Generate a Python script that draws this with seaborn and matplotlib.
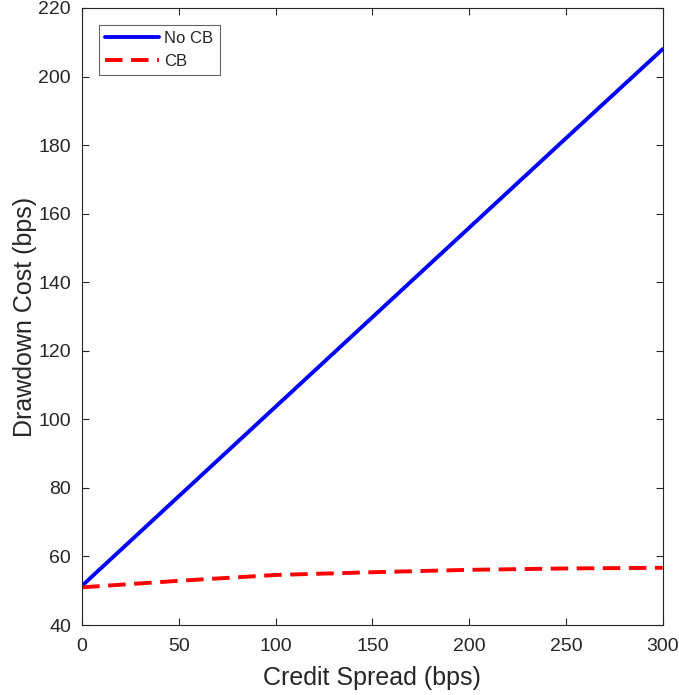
import numpy as np
import pandas as pd
import matplotlib
matplotlib.use("Agg")
import matplotlib.pyplot as plt
import seaborn as sns

spread = [0, 50, 100, 150, 200, 250, 300]
cost_no_cb = [51.5, 77.6, 103.7, 129.8, 155.9, 182.0, 208.0]
cost_cb = [51.0, 52.9, 54.6, 55.4, 56.1, 56.5, 56.7]

df = pd.DataFrame({
    "spread": spread * 2,
    "cost": cost_no_cb + cost_cb,
    "case": ["No CB"] * len(spread) + ["CB"] * len(spread),
})

sns.set_style("white")
plt.rcParams["font.family"] = ["Liberation Sans", "DejaVu Sans"]

fig = plt.figure(figsize=(6.79, 6.95), dpi=100)
ax = fig.add_axes([0.121, 0.1007, 0.855, 0.8878])

sns.lineplot(data=df, x="spread", y="cost", hue="case", style="case",
             palette={"No CB": "#0000ff", "CB": "#ff0000"},
             dashes={"No CB": "", "CB": (4.5, 2.2)},
             linewidth=2.8, ax=ax)

ax.set_xlim(0, 300)
ax.set_ylim(40, 220)
ax.set_xticks(np.arange(0, 301, 50))
ax.set_yticks(np.arange(40, 221, 20))
ax.set_xlabel("Credit Spread (bps)", fontsize=18, color="#262626", labelpad=8)
ax.set_ylabel("Drawdown Cost (bps)", fontsize=18, color="#262626", labelpad=1)
ax.tick_params(direction="in", length=5, width=0.8, colors="#262626",
               labelsize=14, top=True, right=True, bottom=True, left=True)
ax.tick_params(axis="x", pad=9)
ax.tick_params(axis="y", pad=8)
for s in ax.spines.values():
    s.set_color("#262626")
    s.set_linewidth(0.8)

leg = ax.legend(loc="upper left", fontsize=12, frameon=True, fancybox=False,
                edgecolor="#404040", handlelength=3.2, borderaxespad=1.0,
                labelspacing=0.45, handletextpad=0.3, borderpad=0.4)
leg.get_frame().set_linewidth(0.8)

fig.savefig("out.png", dpi=100)
